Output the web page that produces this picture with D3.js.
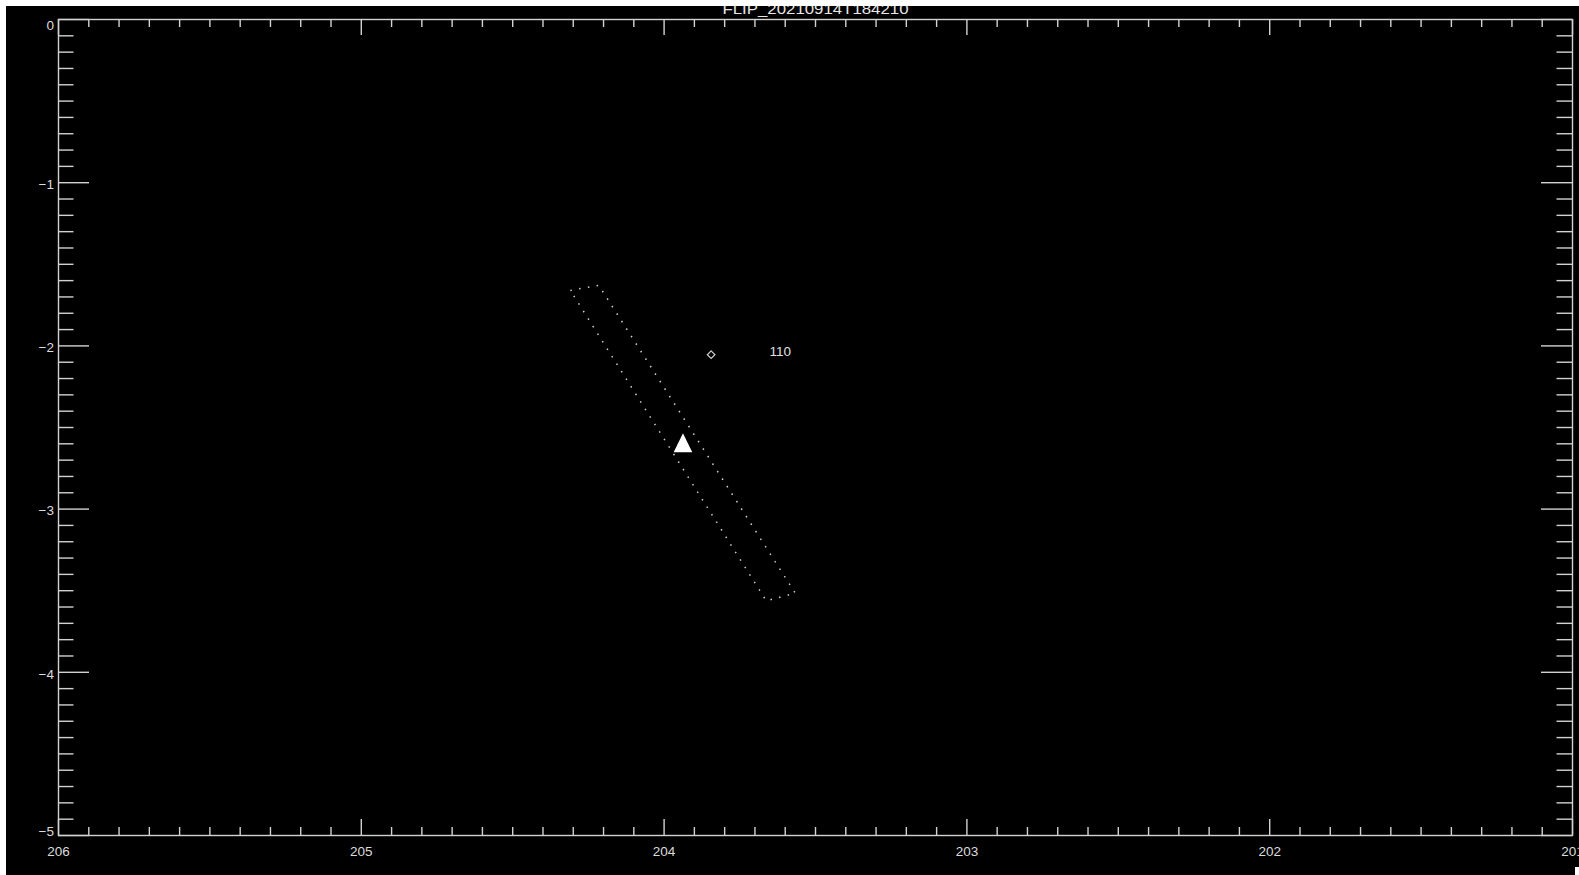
<!DOCTYPE html>
<html>
<head>
<meta charset="utf-8">
<script src="https://cdn.jsdelivr.net/npm/d3@7"></script>
<style>
  html, body { margin: 0; padding: 0; background: #ffffff; }
  svg { display: block; }
  text { font-family: "Liberation Sans", "DejaVu Sans", Arial, sans-serif; }
</style>
</head>
<body>
<svg id="chart" width="1579" height="875"></svg>
<script>
// Plot title
const plotTitle = "FLIP_20210914T184210";

// Axis ticks (longitude runs right-to-left, latitude downward)
const xTickValues = [206, 205, 204, 203, 202, 201];
const yTickValues = [0, -1, -2, -3, -4, -5];

// Dotted swath outline: corner longitudes / latitudes
const boxLon = [204.308, 204.214, 203.565, 203.661];
const boxLat = [-1.663, -1.632, -3.518, -3.565];

// Station marker (diamond) and its ID label
const siteLon = [203.843];
const siteLat = [-2.057];
const siteLabel = ["110"];
const labelLon = [203.650];
const labelLat = [-2.063];

// Filled triangle marker
const triLon = [203.936];
const triLat = [-2.597];

const W = 1579, H = 875;
const svg = d3.select("#chart");

const defs = svg.append("defs");
defs.append("clipPath").attr("id", "frameClip")
  .append("rect").attr("x", 6).attr("y", 6).attr("width", W - 6).attr("height", H - 6);

const root = svg.append("g").attr("clip-path", "url(#frameClip)");
root.append("rect").attr("x", 6).attr("y", 6).attr("width", W - 6).attr("height", H - 6).attr("fill", "#000");

const plotL = 58, plotR = 1572, plotT = 19, plotB = 835;
const x = d3.scaleLinear().domain([206, 201]).range([plotL, plotR]);
const y = d3.scaleLinear().domain([0, -5]).range([plotT, plotB]);

const axisColor = "#d2d2d2";
const xMinor = x.ticks(50).filter(v => !xTickValues.some(t => Math.abs(t - v) < 1e-6));
const yMinor = y.ticks(50).filter(v => !yTickValues.some(t => Math.abs(t - v) < 1e-6));

function styleAxis(g) {
  g.selectAll("path.domain").remove();
  g.selectAll("line").attr("stroke", axisColor).attr("stroke-width", 1.4);
  g.selectAll("text").attr("fill", "#dcdcdc").attr("font-size", 13.5);
}

// Bottom axis (labelled)
root.append("g").attr("transform", `translate(0,${plotB})`)
  .call(d3.axisBottom(x).tickValues(xTickValues).tickSize(-16).tickPadding(11).tickFormat(d3.format("d")))
  .call(styleAxis);
root.append("g").attr("transform", `translate(0,${plotB})`)
  .call(d3.axisBottom(x).tickValues(xMinor).tickSize(-8).tickFormat(""))
  .call(styleAxis);

// Top axis (ticks only)
root.append("g").attr("transform", `translate(0,${plotT})`)
  .call(d3.axisTop(x).tickValues(xTickValues).tickSize(-16).tickFormat(""))
  .call(styleAxis);
root.append("g").attr("transform", `translate(0,${plotT})`)
  .call(d3.axisTop(x).tickValues(xMinor).tickSize(-8).tickFormat(""))
  .call(styleAxis);

// Left axis (labelled); labels kept inside the axis span
const minusFmt = v => (v < 0 ? "\u2212" + Math.abs(v) : String(v));
const gLeft = root.append("g").attr("transform", `translate(${plotL},0)`)
  .call(d3.axisLeft(y).tickValues(yTickValues).tickSize(-31).tickPadding(4).tickFormat(minusFmt))
  .call(styleAxis);
gLeft.selectAll(".tick text").each(function(d) {
  const ty = y(d) + 0.5;
  const c = Math.max(plotT + 6, Math.min(plotB - 3.5, ty + 1.5));
  d3.select(this).attr("y", c - ty).attr("dy", "0.36em");
});
root.append("g").attr("transform", `translate(${plotL},0)`)
  .call(d3.axisLeft(y).tickValues(yMinor).tickSize(-15.5).tickFormat(""))
  .call(styleAxis);

// Right axis (ticks only)
root.append("g").attr("transform", `translate(${plotR},0)`)
  .call(d3.axisRight(y).tickValues(yTickValues).tickSize(-31).tickFormat(""))
  .call(styleAxis);
root.append("g").attr("transform", `translate(${plotR},0)`)
  .call(d3.axisRight(y).tickValues(yMinor).tickSize(-15.5).tickFormat(""))
  .call(styleAxis);

// Frame
root.append("rect")
  .attr("x", plotL + 0.5).attr("y", plotT + 0.5)
  .attr("width", plotR - plotL).attr("height", plotB - plotT)
  .attr("fill", "none").attr("stroke", axisColor).attr("stroke-width", 1.4);

// Title (top partly hidden by the page margin)
root.append("text")
  .attr("x", (plotL + plotR) / 2 + 0.5).attr("y", 13.5)
  .attr("text-anchor", "middle")
  .attr("fill", "#e6e6e6").attr("font-size", 14)
  .attr("textLength", 186).attr("lengthAdjust", "spacingAndGlyphs")
  .text(plotTitle);

// Dotted swath outline
const boxPts = boxLon.map((lon, i) => [lon, boxLat[i]]);
root.append("path")
  .attr("d", d3.line().x(d => x(d[0])).y(d => y(d[1])).curve(d3.curveLinearClosed)(boxPts))
  .attr("fill", "none").attr("stroke", "#cfcfcf").attr("stroke-width", 1.5)
  .attr("stroke-dasharray", "1.5 7.4");

// Diamond marker
root.selectAll("path.site").data(siteLon.map((lon, i) => [lon, siteLat[i]]))
  .enter().append("path").attr("class", "site")
  .attr("transform", d => `translate(${x(d[0])},${y(d[1])})`)
  .attr("d", "M0,-3.8L3.8,0L0,3.8L-3.8,0Z")
  .attr("fill", "none").attr("stroke", "#cfcfcf").attr("stroke-width", 1.2);

root.selectAll("text.siteLabel").data(siteLabel)
  .enter().append("text").attr("class", "siteLabel")
  .attr("x", (d, i) => x(labelLon[i])).attr("y", (d, i) => y(labelLat[i]))
  .attr("fill", "#e0e0e0").attr("font-size", 13.5)
  .text(d => d);

// Filled triangle marker
root.selectAll("path.tri").data(triLon.map((lon, i) => [lon, triLat[i]]))
  .enter().append("path").attr("class", "tri")
  .attr("transform", d => `translate(${x(d[0])},${y(d[1])})`)
  .attr("d", "M0,-9.5L9.3,9.5L-9.3,9.5Z")
  .attr("fill", "#ffffff");

// Small mark at the lower-right corner of the sheet
svg.append("rect").attr("x", 1575).attr("y", 867).attr("width", 4).attr("height", 8).attr("fill", "#ffffff");
</script>
</body>
</html>
